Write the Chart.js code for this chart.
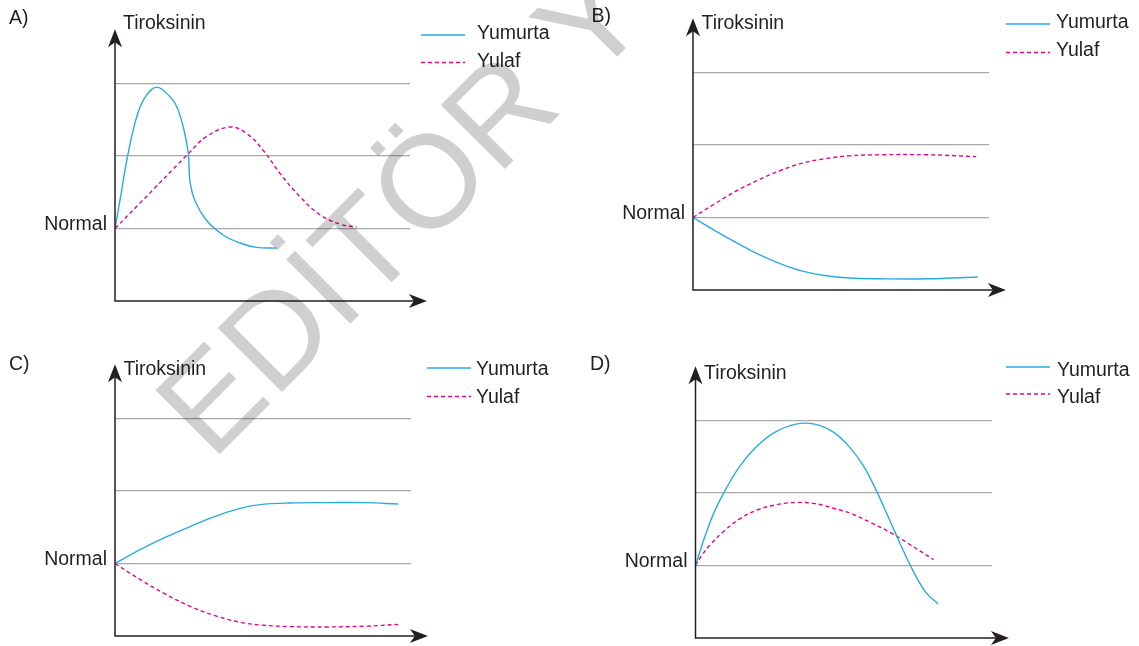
<!DOCTYPE html>
<html>
<head>
<meta charset="utf-8">
<script src="https://cdn.jsdelivr.net/npm/chart.js@4.4.1/dist/chart.umd.min.js"></script>
<style>
html,body{margin:0;padding:0;background:#fff;overflow:hidden}
#page{position:relative;width:1139px;height:646px}
canvas{position:absolute}
#wm{left:0;top:0;pointer-events:none}
</style>
</head>
<body>
<div id="page">
<canvas id="chartA" width="570" height="323" style="left:0;top:0"></canvas>
<canvas id="chartB" width="569" height="323" style="left:570px;top:0"></canvas>
<canvas id="chartC" width="570" height="323" style="left:0;top:323px"></canvas>
<canvas id="chartD" width="569" height="323" style="left:570px;top:323px"></canvas>
<canvas id="wm" width="1139" height="646"></canvas>
</div>
<script>
// texts
const seriesNames=["Yumurta","Yulaf"]
const panelLetters=["A)","B)","C)","D)"]
const axisTitle="Tiroksinin"
const normalLabel="Normal"
const watermarkText="EDİTÖR Y"
const gridValues=[1,2,3]

// A) values (x: time, 0..100 = arrow tip ; y: Normal = 1)
const aYumurtaX=[0,1.6,3.4,5.1,7.4,9.8,13.4,17.6,19.8,21.9,23.5,24.0,25.6,29.4,34.7,40.1,45.4,51.8]
const aYumurtaY=[1,1.39,1.85,2.22,2.6,2.82,2.95,2.82,2.68,2.40,2.04,1.66,1.39,1.11,0.91,0.80,0.74,0.73]
const aYulafX=[0,8,23.5,29.4,36.9,42.2,47.5,52.9,59.3,65.7,72.1,77.5]
const aYulafY=[1,1.35,2.03,2.27,2.40,2.31,2.08,1.76,1.44,1.19,1.06,1.02]

// B)
const bYumurtaX=[0,7,14,21,28,35,42,50,60,75,91]
const bYumurtaY=[1,0.82,0.65,0.49,0.36,0.26,0.2,0.165,0.155,0.155,0.18]
const bYulafX=[0,7,14,21,28,35,42,50,60,75,90.5]
const bYulafY=[1,1.19,1.37,1.52,1.65,1.75,1.81,1.85,1.865,1.865,1.84]

// C)
const cYumurtaX=[0,8,16,24,32,40,47,56,68,80,90.5]
const cYumurtaY=[1,1.19,1.36,1.51,1.65,1.76,1.815,1.835,1.84,1.84,1.82]
const cYulafX=[0,8,16,24,32,40,47,56,68,80,90.5]
const cYulafY=[1,0.78,0.58,0.41,0.28,0.19,0.15,0.13,0.125,0.135,0.16]

// D)
const dYumurtaX=[0,3,6,9.5,14,19,25,32,38,44,49,53.5,57.5,61.5,65.5,69.5,73.5,77.4]
const dYumurtaY=[1,1.4,1.74,2.04,2.36,2.62,2.83,2.95,2.95,2.84,2.64,2.38,2.05,1.67,1.28,0.92,0.63,0.47]
const dYulafX=[0,2,5,9,14,20,26,32,38,44,50,56,62,68,76]
const dYulafY=[1,1.14,1.3,1.47,1.64,1.77,1.84,1.87,1.855,1.79,1.71,1.59,1.46,1.30,1.08]

const ink="#231f20"
const cyan="#29abe2"
const magenta="#ec008c"
const gridColor="#a7a9ac"
const fontFamily='"Liberation Sans", Arial, sans-serif'
const fontSize=19.5
const Y_MAX=3.75
const X_MAX=94.6
const UNIT=72.5
const Y_W=90

// page layout of each panel (absolute pixels)
const panels=[
{id:"chartA",left:0,top:0,w:570,h:323,axisX:115,axisY:301,gridEnd:410,
 letter:[9,18.5],title:[123,28.5],legend:{lineX:421,y:35,textX:477,gap:27.5,dy:-1},
 data:[[aYumurtaX,aYumurtaY],[aYulafX,aYulafY]]},
{id:"chartB",left:570,top:0,w:569,h:323,axisX:693,axisY:290,gridEnd:989,
 letter:[591.5,17],title:[701.5,29],legend:{lineX:1006,y:24,textX:1056,gap:28.5,dy:-1.5},
 data:[[bYumurtaX,bYumurtaY],[bYulafX,bYulafY]]},
{id:"chartC",left:0,top:323,w:570,h:323,axisX:115,axisY:636,gridEnd:411,
 letter:[9,365],title:[123.5,375],legend:{lineX:427,y:368,textX:476,gap:28.5,dy:1.5},
 data:[[cYumurtaX,cYumurtaY],[cYulafX,cYulafY]]},
{id:"chartD",left:570,top:323,w:569,h:323,axisX:695.5,axisY:638,gridEnd:992,
 letter:[590,365],title:[704,379],legend:{lineX:1006,y:367,textX:1057,gap:27,dy:4},
 data:[[dYumurtaX,dYumurtaY],[dYulafX,dYulafY]]}
]

function arrow(ctx,x,y,ang){
ctx.save()
ctx.translate(x,y)
ctx.rotate(ang)
ctx.beginPath()
ctx.moveTo(0,0)
ctx.lineTo(-18,-7)
ctx.lineTo(-13,0)
ctx.lineTo(-18,7)
ctx.closePath()
ctx.fill()
ctx.restore()
}

// axes with arrows, title, letter and legend
const decor={
id:"decor",
afterDraw(chart,args,o){
const ctx=chart.ctx
const xs=chart.scales.x, ys=chart.scales.y
const x0=xs.getPixelForValue(0), y0=ys.getPixelForValue(0)
const xEnd=xs.getPixelForValue(100), yTop=ys.getPixelForValue(Y_MAX)
ctx.save()
ctx.strokeStyle=ink
ctx.fillStyle=ink
ctx.lineWidth=1.5
ctx.beginPath()
ctx.moveTo(x0,yTop+12)
ctx.lineTo(x0,y0)
ctx.lineTo(xEnd-12,y0)
ctx.stroke()
arrow(ctx,x0,yTop,-Math.PI/2)
arrow(ctx,xEnd,y0,0)

ctx.font=fontSize+"px "+fontFamily
ctx.textAlign="left"
ctx.textBaseline="alphabetic"
ctx.fillText(axisTitle,o.title[0]-o.left,o.title[1]-o.top)
ctx.textBaseline="middle"
ctx.fillText(o.letterText,o.letter[0]-o.left,o.letter[1]-o.top)

const lg=o.legend
chart.data.datasets.forEach((ds,i)=>{
const y=lg.y+i*lg.gap-o.top
ctx.save()
ctx.strokeStyle=ds.borderColor
ctx.lineWidth=ds.borderWidth
ctx.setLineDash(ds.borderDash||[])
ctx.beginPath()
ctx.moveTo(lg.lineX-o.left,y)
ctx.lineTo(lg.lineX+44-o.left,y)
ctx.stroke()
ctx.restore()
ctx.fillText(ds.label,lg.textX-o.left,y+lg.dy)
})
ctx.restore()
}
}

panels.forEach((p,k)=>{
const padBottom=p.top+p.h-p.axisY
const padTop=(p.axisY-Y_MAX*UNIT)-p.top
new Chart(document.getElementById(p.id),{
type:"line",
data:{
datasets:p.data.map((s,i)=>({
label:seriesNames[i],
data:s[0].map((x,j)=>({x:x,y:s[1][j]})),
borderColor:i===0?cyan:magenta,
borderWidth:1.4,
borderDash:i===0?[]:[4,3],
tension:0.4,
pointRadius:0,
fill:false
}))
},
options:{
responsive:false,
animation:false,
devicePixelRatio:1,
events:[],
layout:{padding:{left:p.axisX-p.left-Y_W,right:p.left+p.w-p.gridEnd,top:padTop,bottom:padBottom}},
plugins:{
legend:{display:false},
tooltip:{enabled:false},
decor:{left:p.left,top:p.top,letter:p.letter,letterText:panelLetters[k],title:p.title,legend:p.legend}
},
scales:{
x:{type:"linear",min:0,max:X_MAX,display:false},
y:{type:"linear",min:0,max:Y_MAX,
afterBuildTicks:s=>{s.ticks=gridValues.map(v=>({value:v}))},
afterFit:s=>{s.width=Y_W;s.paddingTop=0;s.paddingBottom=0},
ticks:{autoSkip:false,padding:8,labelOffset:-4,color:ink,
font:{family:fontFamily,size:fontSize},
callback:v=>v===1?normalLabel:""},
grid:{color:gridColor,lineWidth:1.3,drawTicks:false},
border:{display:false}
}
}
},
plugins:[decor]
})
})

// watermark
const wm=document.getElementById("wm").getContext("2d")
wm.save()
wm.translate(212,462)
wm.rotate(-Math.PI/4)
wm.font="132px "+fontFamily
wm.fillStyle="rgba(0,0,0,0.19)"
wm.fillText(watermarkText,0,0)
wm.restore()
</script>
</body>
</html>
